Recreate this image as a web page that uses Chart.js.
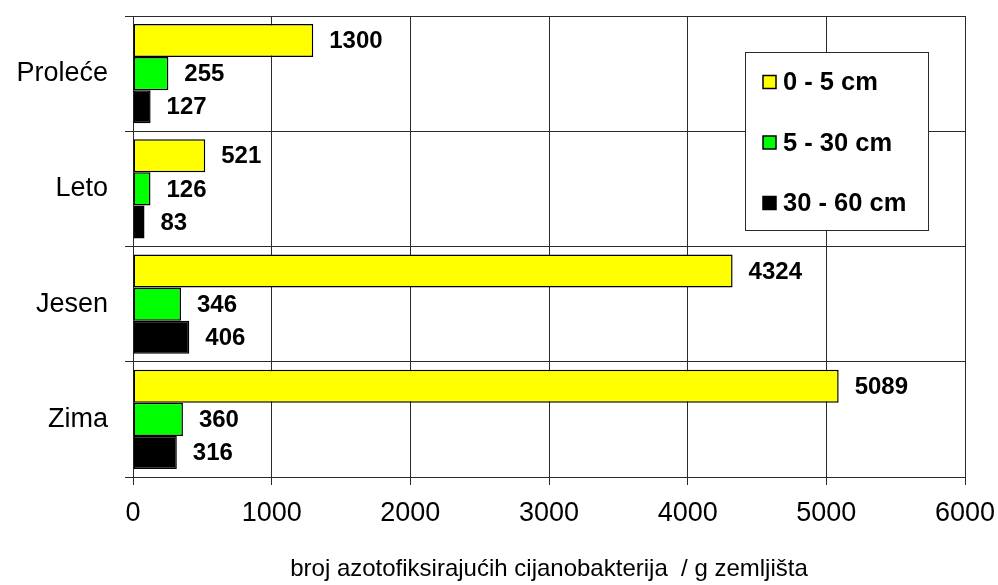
<!DOCTYPE html>
<html>
<head>
<meta charset="utf-8">
<script src="https://cdn.jsdelivr.net/npm/chart.js@4"></script>
<style>
  html, body { margin: 0; padding: 0; background: #fff; }
  #wrap { width: 998px; height: 585px; }
</style>
</head>
<body>
<div id="wrap"><canvas id="chart" width="998" height="585"></canvas></div>
<script>
const seasons = ['Proleće', 'Leto', 'Jesen', 'Zima'];
const depth0to5 = [1300, 521, 4324, 5089];
const depth5to30 = [255, 126, 346, 360];
const depth30to60 = [127, 83, 406, 316];
const seriesNames = ['0 - 5 cm', '5 - 30 cm', '30 - 60 cm'];
const xTicks = [0, 1000, 2000, 3000, 4000, 5000, 6000];
const axisTitle = 'broj azotofiksirajućih cijanobakterija  / g zemljišta';

const FONT = '"Liberation Sans", Arial, sans-serif';
const GRID = '#2a2a2a';

// value labels to the right of each bar
const valueLabels = {
  id: 'valueLabels',
  afterDatasetsDraw(chart) {
    const ctx = chart.ctx;
    ctx.save();
    ctx.font = 'bold 24px ' + FONT;
    ctx.fillStyle = '#000';
    ctx.textBaseline = 'middle';
    ctx.textAlign = 'left';
    chart.data.datasets.forEach((ds, i) => {
      chart.getDatasetMeta(i).data.forEach((bar, j) => {
        ctx.fillText(String(ds.data[j]), bar.x + 16, bar.y + 1);
      });
    });
    ctx.restore();
  }
};

// boxed legend sitting inside the plot area
const boxLegend = {
  id: 'boxLegend',
  afterDatasetsDraw(chart) {
    const ctx = chart.ctx;
    const bx = 745, by = 52, bw = 183, bh = 178;
    ctx.save();
    ctx.fillStyle = '#fff';
    ctx.fillRect(bx, by, bw, bh);
    ctx.strokeStyle = GRID;
    ctx.lineWidth = 1;
    ctx.strokeRect(bx + 0.5, by + 0.5, bw, bh);
    ctx.font = 'bold 25.5px ' + FONT;
    ctx.textBaseline = 'middle';
    chart.data.datasets.forEach((ds, i) => {
      const cy = 82 + i * 60.5;
      ctx.fillStyle = ds.backgroundColor;
      ctx.fillRect(763, cy - 6.5, 13, 13);
      ctx.strokeStyle = '#000';
      ctx.lineWidth = 1.5;
      ctx.strokeRect(763, cy - 6.5, 13, 13);
      ctx.fillStyle = '#000';
      ctx.fillText(ds.label, 783, cy + 1);
    });
    ctx.restore();
  }
};

const barStyle = { borderColor: '#000', borderWidth: 1.5, borderSkipped: false };

new Chart(document.getElementById('chart').getContext('2d'), {
  type: 'bar',
  data: {
    labels: seasons,
    datasets: [
      { label: seriesNames[0], data: depth0to5, backgroundColor: '#ffff00', ...barStyle },
      { label: seriesNames[1], data: depth5to30, backgroundColor: '#00ff00', ...barStyle },
      { label: seriesNames[2], data: depth30to60, backgroundColor: '#000000', ...barStyle }
    ]
  },
  options: {
    indexAxis: 'y',
    responsive: false,
    animation: false,
    categoryPercentage: 0.86,
    barPercentage: 1.0,
    layout: { padding: { top: 16, right: 33, left: 0, bottom: 0 } },
    plugins: {
      legend: { display: false },
      tooltip: { enabled: false }
    },
    scales: {
      x: {
        min: 0,
        max: 6000,
        afterBuildTicks(scale) {
          scale.ticks = xTicks.map(v => ({ value: v }));
        },
        afterFit(scale) {
          scale.height = 108;
          scale.paddingLeft = 0;
          scale.paddingRight = 0;
        },
        grid: { color: GRID, lineWidth: 1, tickLength: 8 },
        border: { color: GRID, width: 1 },
        ticks: {
          color: '#000',
          font: { family: FONT, size: 27 },
          padding: 12,
          maxRotation: 0,
          callback: v => String(v)
        },
        title: {
          display: true,
          text: axisTitle,
          color: '#000',
          font: { family: FONT, size: 24 },
          padding: { top: 0, bottom: 1 }
        }
      },
      y: {
        afterFit(scale) {
          scale.width = 133;
          scale.paddingTop = 0;
          scale.paddingBottom = 0;
        },
        grid: { color: GRID, lineWidth: 1, tickLength: 8, offset: true },
        border: { color: GRID, width: 1 },
        ticks: { color: '#000', font: { family: FONT, size: 27 }, padding: 17 }
      }
    }
  },
  plugins: [valueLabels, boxLegend]
});
</script>
</body>
</html>
